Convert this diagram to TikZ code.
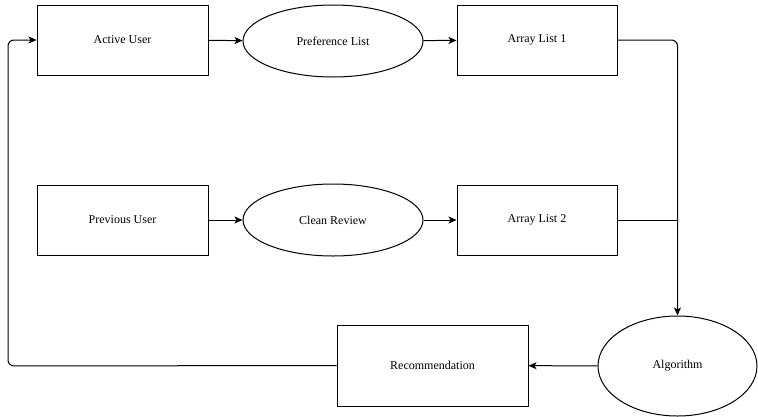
\documentclass[tikz,border=0pt]{standalone}
\usepackage{fontspec}
\setmainfont{Liberation Serif}
\newfontfamily\labelfont{Liberation Serif}
\usetikzlibrary{shapes.geometric,arrows.meta}
\tikzset{
  box/.style={draw, line width=1pt, rectangle, inner sep=0pt, font=\labelfont\fontsize{12}{14}\selectfont},
  oval/.style={draw, line width=1pt, ellipse, inner sep=0pt, font=\labelfont\fontsize{12}{14}\selectfont},
  link/.style={line width=1pt, -{Stealth[length=8pt,width=7pt,inset=2pt]}}
}
\begin{document}
\begin{tikzpicture}[x=1pt, y=-1pt]
			\useasboundingbox (0,0) rectangle (758,416);
			% Draw top row
			\node[box, minimum width=171pt, minimum height=70pt] (active) at (122.5,40) {Active User};
			\node[oval, minimum width=180pt, minimum height=72pt] (pref) at (333,41) {Preference List};
			\node[box, minimum width=160pt, minimum height=70pt] (arr1) at (537,40) {Array List 1};
			% Draw middle row
			\node[box, minimum width=171pt, minimum height=70pt] (prev) at (122.5,220) {Previous User};
			\node[oval, minimum width=180pt, minimum height=72pt] (clean) at (333,220) {Clean Review};
			\node[box, minimum width=160pt, minimum height=70pt] (arr2) at (537,220) {Array List 2};
			% Draw bottom row
			\node[oval, minimum width=159pt, minimum height=100pt] (algo) at (677.5,366) {Algorithm};
			\node[box, minimum width=191pt, minimum height=81pt] (recom) at (432.5,365.5) {Recommendation};
			\coordinate (back) at (8,366);
			% Draw connectors
			\draw[link] (active) -- (pref);
			\draw[link] (pref) -- (arr1);
			\draw[link] (prev) -- (clean);
			\draw[link] (clean) -- (arr2);
			\draw[link, rounded corners=6pt] (arr1.east) -| (algo.north);
			\draw[line width=1pt] (arr2.east) -- (arr2.east -| algo.north);
			\draw[link] (algo) -- (recom);
			\draw[link, rounded corners=6pt] (recom.west) -- (back) |- (active.west);
		\end{tikzpicture}
\end{document}
